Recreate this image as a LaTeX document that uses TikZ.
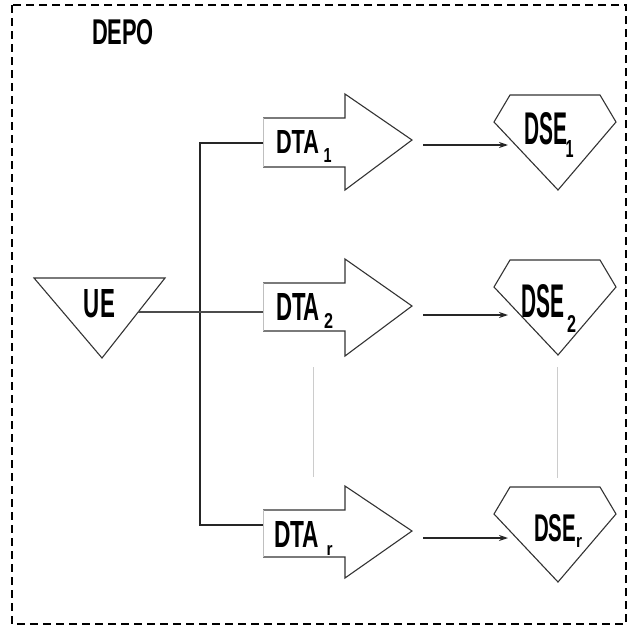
\documentclass[tikz,border=0pt]{standalone}
\usepackage{fontspec}
\setmainfont{Liberation Sans}
\usepackage{graphicx}
\usetikzlibrary{arrows.meta}
\newcommand{\lbl}[3]{\resizebox{#1}{#2}{\bfseries #3}}
\begin{document}
\begin{tikzpicture}[x=1pt,y=-1pt,
  shapeline/.style={draw=black!80,line width=1.1pt,line join=miter},
  faintedge/.style={draw=black!25,line width=0.8pt},
  wire/.style={draw=black!85,line width=1.4pt},
  flow/.style={draw=black!85,line width=1.4pt,-{Stealth[length=9pt,width=6pt]}},
  dotline/.style={draw=black!20,line width=0.8pt},
  txt/.style={inner sep=0pt,outer sep=0pt,text=black}]
\useasboundingbox (0,0) rectangle (628,629);
% frame
\draw[line width=1.3pt,dash pattern=on 8pt off 5pt] (12,5) rectangle (626,624);
\node[txt] (depo) at (123,32.5) {\lbl{62pt}{25pt}{DEPO}};
% UE
\draw[shapeline] (34,278) -- (165,278) -- (102,358) -- cycle;
\node[txt] (ue) at (99.5,304) {\lbl{31pt}{28pt}{UE}};
\coordinate (ueout) at (138,312);
% DTA shapes
\draw[shapeline] (263,118) -- (345,118) -- (345,94) -- (412,140) -- (345,190) -- (345,167) -- (263,167);
\draw[faintedge] (263,118) -- (263,167);
\draw[shapeline] (263,283) -- (345,283) -- (345,259) -- (412,306) -- (345,356) -- (345,331) -- (263,331);
\draw[faintedge] (263,283) -- (263,331);
\draw[shapeline] (263,510) -- (345,510) -- (345,486) -- (412,531) -- (345,578) -- (345,557) -- (263,557);
\draw[faintedge] (263,510) -- (263,557);
\coordinate (dta1in) at (263,143);
\coordinate (dta2in) at (263,312);
\coordinate (dtarin) at (263,525);
\coordinate (dta1out) at (423,145);
\coordinate (dta2out) at (423,315);
\coordinate (dtarout) at (423,538);
\node[txt] (dta1) at (297.5,141.5) {\lbl{43pt}{23pt}{DTA}};
\node[txt] (dta1s) at (327.5,155) {\lbl{8pt}{14pt}{1}};
\node[txt] (dta2) at (298,306.5) {\lbl{44pt}{27pt}{DTA}};
\node[txt] (dta2s) at (328.5,320.5) {\lbl{9pt}{15pt}{2}};
\node[txt] (dtar) at (296.5,534) {\lbl{45pt}{26pt}{DTA}};
\node[txt] (dtars) at (329.5,550) {\lbl{6pt}{10pt}{r}};
% DSE shapes
\draw[shapeline] (510,95) -- (600,95) -- (616,122) -- (558,190) -- (494,122) -- cycle;
\draw[shapeline] (510,260) -- (600,260) -- (616,287) -- (558,355) -- (494,287) -- cycle;
\draw[shapeline] (510,487) -- (600,487) -- (616,514) -- (558,582) -- (494,514) -- cycle;
\coordinate (dse1in) at (508,145);
\coordinate (dse2in) at (508,315);
\coordinate (dserin) at (508,538);
\node[txt] (dse1) at (545.5,129) {\lbl{43pt}{32pt}{DSE}};
\node[txt] (dse1s) at (569.5,148.5) {\lbl{8pt}{17pt}{1}};
\node[txt] (dse2) at (542.5,301.5) {\lbl{43pt}{33pt}{DSE}};
\node[txt] (dse2s) at (571.5,323.5) {\lbl{9pt}{17pt}{2}};
\node[txt] (dser) at (555,528.5) {\lbl{42pt}{27pt}{DSE}};
\node[txt] (dsers) at (579,542) {\lbl{6pt}{10pt}{r}};
% bus
\coordinate (bustop) at (200,143);
\coordinate (busbot) at (200,525);
\draw[wire] (dta1in) -- (bustop) -- (busbot) -- (dtarin);
\draw[wire,draw=black!70,line width=1.2pt] (ueout) -- (dta2in);
% flows
\draw[flow] (dta1out) -- (dse1in);
\draw[flow] (dta2out) -- (dse2in);
\draw[flow] (dtarout) -- (dserin);
% faint continuation lines
\coordinate (c1a) at (313,367);
\coordinate (c1b) at (313,477);
\coordinate (c2a) at (557,367);
\coordinate (c2b) at (557,478);
\draw[dotline] (c1a) -- (c1b);
\draw[dotline] (c2a) -- (c2b);
\end{tikzpicture}
\end{document}
